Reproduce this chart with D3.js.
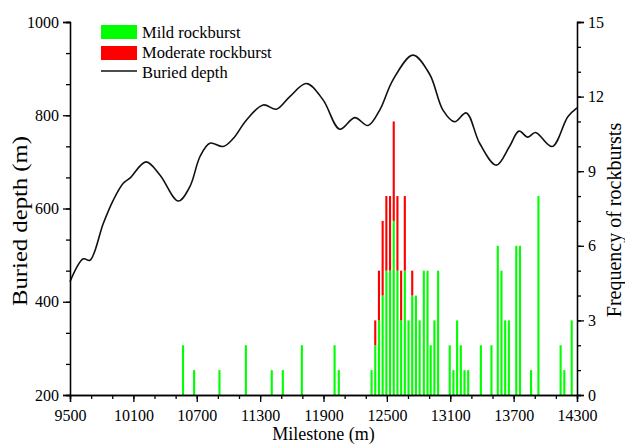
<!DOCTYPE html>
<html>
<head>
<meta charset="utf-8">
<script src="https://cdn.jsdelivr.net/npm/d3@7"></script>
<style>
  body { margin: 0; background: #fff; }
  svg text { font-family: "Liberation Serif", "Times New Roman", serif; fill: #000; }
</style>
</head>
<body>
<div id="container"></div>
<script>
// milestone of each rockburst bin (m)
const milestones = [10570, 10675, 10915, 11165, 11410, 11515, 11695, 12005, 12045,
  12355, 12390, 12425, 12460, 12495, 12530, 12565, 12600, 12635, 12670, 12705, 12740,
  12775, 12810, 12850, 12885, 12915, 12950, 12985,
  13095, 13130, 13165, 13200, 13235, 13270,
  13390, 13490, 13550, 13585, 13620, 13655, 13725, 13760, 13865, 13935, 14145, 14180, 14250]
const mild = [2, 1, 1, 2, 1, 1, 2, 2, 1,
  1, 2, 3, 4, 5, 5, 7, 5, 3, 5, 3, 4,
  4, 3, 5, 5, 2, 3, 5,
  2, 1, 3, 2, 1, 1,
  2, 2, 6, 5, 3, 3, 6, 6, 1, 8, 2, 1, 3]
const moderate = [0, 0, 0, 0, 0, 0, 0, 0, 0,
  0, 1, 2, 3, 3, 3, 4, 3, 2, 3, 0, 1,
  0, 0, 0, 0, 0, 0, 0,
  0, 0, 0, 0, 0, 0,
  0, 0, 0, 0, 0, 0, 0, 0, 0, 0, 0, 0, 0]

// buried depth curve (milestone, depth)
const depthMilestone = [9500, 9626, 9689, 9815, 9910, 10004, 10067, 10219, 10351, 10525,
  10635, 10730, 10824, 10950, 11045, 11171, 11329, 11455, 11581, 11739, 11896, 12054,
  12196, 12321, 12432, 12558, 12747, 12905, 13031, 13141, 13252, 13378, 13536, 13661,
  13750, 13835, 13907, 14065, 14213, 14300]
const depth = [443, 492, 489, 568, 618, 654, 665, 700, 672, 616,
  647, 711, 740, 733, 750, 790, 822, 813, 840, 868, 833, 770,
  795, 778, 811, 876, 929, 888, 811, 786, 805, 740, 693, 733,
  766, 753, 763, 733, 797, 816]

const xMajor = [9500, 10100, 10700, 11300, 11900, 12500, 13100, 13700, 14300]
const depthTicks = [200, 400, 600, 800, 1000]
const freqTicks = [0, 3, 6, 9, 12, 15]

const width = 625
const height = 444
const marginLeft = 70
const marginRight = 48
const marginTop = 22
const marginBottom = 49

const x = d3.scaleLinear().domain([9500, 14300]).range([marginLeft, width - marginRight])
const yDepth = d3.scaleLinear().domain([200, 1000]).range([height - marginBottom, marginTop])
const yFreq = d3.scaleLinear().domain([0, 15]).range([height - marginBottom, marginTop])

const svg = d3.create('svg')
  .attr('width', width)
  .attr('height', height)

svg.append('rect').attr('width', width).attr('height', height).attr('fill', '#fff')

// bars (mild at bottom, moderate stacked on top)
const barW = x(9520) - x(9500)
const bars = svg.append('g')
bars.selectAll('rect.mild')
  .data(milestones)
  .join('rect')
  .attr('class', 'mild')
  .attr('x', d => x(d) - barW / 2)
  .attr('y', (d, i) => yFreq(mild[i]))
  .attr('width', barW)
  .attr('height', (d, i) => yFreq(0) - yFreq(mild[i]))
  .attr('fill', '#00ff00')
bars.selectAll('rect.moderate')
  .data(d3.range(milestones.length).filter(i => moderate[i] > 0))
  .join('rect')
  .attr('class', 'moderate')
  .attr('x', i => x(milestones[i]) - barW / 2)
  .attr('y', i => yFreq(mild[i] + moderate[i]))
  .attr('width', barW)
  .attr('height', i => yFreq(mild[i]) - yFreq(mild[i] + moderate[i]))
  .attr('fill', '#ff0000')

// buried depth line
const line = d3.line()
  .x((d, i) => x(depthMilestone[i]))
  .y(d => yDepth(d))
  .curve(d3.curveCatmullRom.alpha(0.5))
svg.append('path')
  .attr('d', line(depth))
  .attr('fill', 'none')
  .attr('stroke', '#111')
  .attr('stroke-width', 1.6)

// axes
function styleAxis(g) {
  g.selectAll('path').attr('stroke', '#000').attr('stroke-width', 1.3)
  g.selectAll('line').attr('stroke', '#000').attr('stroke-width', 1.3)
  g.selectAll('text').style('font-size', '16px').attr('fill', '#000')
}

const bottom = height - marginBottom
// minor ticks first
svg.append('g')
  .attr('transform', `translate(0,${bottom})`)
  .call(d3.axisBottom(x).tickValues(d3.range(9500, 14301, 200)).tickSize(4).tickFormat(''))
  .call(styleAxis)
svg.append('g')
  .attr('transform', `translate(0,${bottom})`)
  .call(d3.axisBottom(x).tickValues(xMajor).tickSize(7).tickPadding(8).tickFormat(d3.format('d')))
  .call(styleAxis)

svg.append('g')
  .attr('transform', `translate(${marginLeft},0)`)
  .call(d3.axisLeft(yDepth).tickValues(d3.range(0, 13).map(i => 200 + i * 200 / 3)).tickSize(4).tickFormat(''))
  .call(styleAxis)
svg.append('g')
  .attr('transform', `translate(${marginLeft},0)`)
  .call(d3.axisLeft(yDepth).tickValues(depthTicks).tickSize(7).tickPadding(4).tickFormat(d3.format('d')))
  .call(styleAxis)

svg.append('g')
  .attr('transform', `translate(${width - marginRight},0)`)
  .call(d3.axisRight(yFreq).tickValues(d3.range(0, 16)).tickSize(4).tickFormat(''))
  .call(styleAxis)
svg.append('g')
  .attr('transform', `translate(${width - marginRight},0)`)
  .call(d3.axisRight(yFreq).tickValues(freqTicks).tickSize(7).tickPadding(4).tickFormat(d3.format('d')))
  .call(styleAxis)

// axis titles
svg.append('text')
  .attr('x', (marginLeft + width - marginRight) / 2)
  .attr('y', 440)
  .attr('text-anchor', 'middle')
  .style('font-size', '18px')
  .text('Milestone (m)')
svg.append('text')
  .attr('transform', 'translate(27,221)rotate(-90)')
  .attr('text-anchor', 'middle')
  .attr('textLength', 170)
  .attr('lengthAdjust', 'spacingAndGlyphs')
  .style('font-size', '21px')
  .text('Buried depth (m)')
svg.append('text')
  .attr('transform', 'translate(621,220)rotate(-90)')
  .attr('text-anchor', 'middle')
  .style('font-size', '20px')
  .text('Frequency of rockbursts')

// legend
const legend = svg.append('g')
legend.append('rect').attr('x', 101).attr('y', 25).attr('width', 36).attr('height', 14).attr('fill', '#00ff00')
legend.append('rect').attr('x', 101).attr('y', 46).attr('width', 36).attr('height', 14).attr('fill', '#ff0000')
legend.append('line').attr('x1', 101).attr('x2', 137).attr('y1', 71).attr('y2', 71)
  .attr('stroke', '#111').attr('stroke-width', 1.6)
const legendText = ['Mild rockburst', 'Moderate rockburst', 'Buried depth']
legend.selectAll('text.lg')
  .data(legendText)
  .join('text')
  .attr('class', 'lg')
  .attr('x', 142)
  .attr('y', (d, i) => 37.5 + i * 20)
  .style('font-size', '16.5px')
  .text(d => d)

d3.select('#container').append(() => svg.node())
</script>
</body>
</html>
